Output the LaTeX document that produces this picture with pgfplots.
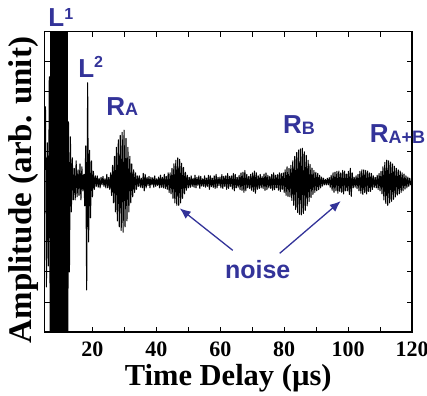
\documentclass[border=0pt]{standalone}
\usepackage{pgfplots}
\pgfplotsset{compat=1.18}
\usepackage{fontspec}
\setmainfont{Liberation Serif}
\newfontfamily\lsans{Liberation Sans}
\usetikzlibrary{arrows.meta}
\definecolor{nblue}{RGB}{51,51,153}
\begin{document}
\begin{tikzpicture}
\begin{axis}[name=ax,
  scale only axis, width=367.5pt, height=300.3pt,
  xmin=5, xmax=120, ymin=-5, ymax=5,
  xtick={10,20,...,120},
  xticklabels={,20,,40,,60,,80,,100,,120},
  ytick={-4,-3,...,4}, yticklabels={},
  tick pos=both, tick align=inside,
  major tick length=5pt,
  axis line style={line width=1.2pt},
  every tick/.style={line width=0.9pt, black},
  /pgf/number format/assume math mode=true,
  xticklabel style={font=\fontsize{22}{22}\selectfont\bfseries, inner sep=0pt, yshift=-9.7pt},
  xlabel={Time Delay (µs)},
  xlabel style={at={(axis description cs:0.5,-0.1765)}, anchor=base, inner sep=0pt, font=\fontsize{30.5}{30.5}\selectfont\bfseries},
  ylabel={Amplitude (arb. unit)},
  ylabel style={at={(axis description cs:-0.0367,0.473)}, anchor=base, inner sep=0pt, font=\fontsize{33}{33}\selectfont\bfseries},
  clip mode=individual,
]
\addplot[black, line width=1.05pt, line join=round, mark=none] coordinates {
(5.0,0.4)(5.3,2.5)(5.6,-3.5)(5.9,1.3)(6.2,-2.8)(6.5,3.5)(6.8,-5.5)(7.0,8)(7.15,-9)(7.3,9)(7.45,-9)(7.6,9)(7.75,-9)(7.9,9)
(8.05,-9)(8.2,9)(8.35,-9)(8.5,9)(8.65,-9)(8.8,9)(8.95,-9)(9.1,9)(9.25,-9)(9.4,9)(9.55,-9)(9.7,9)(9.85,-9)(10.0,9)
(10.15,-9)(10.3,9)(10.45,-9)(10.6,9)(10.75,-9)(10.9,9)(11.05,-9)(11.2,9)(11.35,-9)(11.5,9)(11.65,-9)(11.8,9)(11.95,-9)(12.1,8)(12.25,-7)
(12.5,2.0)(12.8,-3.0)(13.1,1.5)(13.4,-1.0)(13.7,0.8)
(14.0,-0.6)(14.3,0.45)(14.6,-0.6)(14.9,0.7)(15.2,-0.5)(15.5,0.4)(15.8,-0.45)(16.1,0.6)(16.4,-0.6)(16.7,0.5)
(17.0,-0.3)(17.3,0.25)(17.6,-0.8)(17.9,1.2)(18.2,-3.6)(18.5,3.3)(18.8,-2.0)(19.1,1.05)(19.4,-1.2)(19.7,0.7)
(20.0,-0.5)(20.3,0.35)(20.6,-0.25)(20.9,0.2)(21.2,-0.15)(21.5,0.2)(21.8,-0.18)(22.1,0.12)(22.4,-0.2)(22.7,0.15)
(23.0,-0.1)(23.3,0.18)(23.6,-0.15)(23.9,0.1)(24.2,-0.2)(24.5,0.25)(24.8,-0.2)(25.1,0.15)(25.4,-0.25)(25.7,0.3)
(26.0,-0.45)(26.3,0.55)(26.6,-0.7)(26.9,0.85)(27.2,-1.0)(27.5,1.15)(27.8,-1.3)(28.1,1.4)(28.4,-1.5)(28.7,1.55)
(29.0,-1.62)(29.3,1.65)(29.6,-1.68)(29.9,1.72)(30.2,-1.5)(30.5,1.45)(30.8,-1.3)(31.1,1.15)(31.4,-1.0)(31.7,0.85)
(32.0,-0.7)(32.3,0.6)(32.6,-0.5)(32.9,0.4)(33.2,-0.35)(33.5,0.3)(33.8,-0.25)(34.1,0.2)(34.4,-0.15)(34.7,0.2)
(35.0,-0.18)(35.3,0.12)(35.6,-0.2)(35.9,0.28)(36.2,-0.3)(36.5,0.25)(36.8,-0.2)(37.1,0.15)(37.4,-0.12)(37.7,0.18)
(38.0,-0.2)(38.3,0.15)(38.6,-0.1)(38.9,0.14)(39.2,-0.18)(39.5,0.2)(39.8,-0.15)(40.1,0.1)(40.4,-0.12)(40.7,0.16)
(41.0,-0.2)(41.3,0.22)(41.6,-0.18)(41.9,0.15)(42.2,-0.2)(42.5,0.25)(42.8,-0.22)(43.1,0.18)(43.4,-0.25)(43.7,0.3)
(44.0,-0.35)(44.3,0.3)(44.6,-0.4)(44.9,0.45)(45.2,-0.55)(45.5,0.6)(45.8,-0.7)(46.1,0.72)(46.4,-0.78)(46.7,0.8)
(47.0,-0.78)(47.3,0.75)(47.6,-0.7)(47.9,0.62)(48.2,-0.55)(48.5,0.48)(48.8,-0.4)(49.1,0.32)(49.4,-0.28)(49.7,0.22)
(50.0,-0.2)(50.3,0.15)(50.6,-0.18)(50.9,0.2)(51.2,-0.15)(51.5,0.12)(51.8,-0.18)(52.1,0.22)(52.4,-0.2)(52.7,0.15)
(53.0,-0.12)(53.3,0.2)(53.6,-0.22)(53.9,0.18)(54.2,-0.14)(54.5,0.1)(54.8,-0.15)(55.1,0.2)(55.4,-0.18)(55.7,0.12)
(56.0,-0.15)(56.3,0.22)(56.6,-0.25)(56.9,0.2)(57.2,-0.16)(57.5,0.12)(57.8,-0.18)(58.1,0.2)(58.4,-0.22)(58.7,0.25)
(59.0,-0.2)(59.3,0.15)(59.6,-0.12)(59.9,0.16)(60.2,-0.2)(60.5,0.24)(60.8,-0.22)(61.1,0.18)(61.4,-0.15)(61.7,0.2)
(62.0,-0.25)(62.3,0.28)(62.6,-0.22)(62.9,0.18)(63.2,-0.15)(63.5,0.2)(63.8,-0.24)(64.1,0.28)(64.4,-0.3)(64.7,0.25)
(65.0,-0.2)(65.3,0.15)(65.6,-0.18)(65.9,0.22)(66.2,-0.26)(66.5,0.3)(66.8,-0.28)(67.1,0.32)(67.4,-0.35)(67.7,0.38)
(68.0,-0.3)(68.3,0.25)(68.6,-0.2)(68.9,0.18)(69.2,-0.22)(69.5,0.25)(69.8,-0.28)(70.1,0.3)(70.4,-0.32)(70.7,0.36)
(71.0,-0.38)(71.3,0.3)(71.6,-0.25)(71.9,0.2)(72.2,-0.22)(72.5,0.25)(72.8,-0.2)(73.1,0.18)(73.4,-0.22)(73.7,0.26)
(74.0,-0.28)(74.3,0.3)(74.6,-0.26)(74.9,0.22)(75.2,-0.2)(75.5,0.18)(75.8,-0.22)(76.1,0.25)(76.4,-0.28)(76.7,0.3)
(77.0,-0.26)(77.3,0.22)(77.6,-0.2)(77.9,0.24)(78.2,-0.28)(78.5,0.3)(78.8,-0.32)(79.1,0.28)(79.4,-0.25)(79.7,0.3)
(80.0,-0.35)(80.3,0.4)(80.6,-0.45)(80.9,0.5)(81.2,-0.48)(81.5,0.45)(81.8,-0.5)(82.1,0.55)(82.4,-0.62)(82.7,0.7)
(83.0,-0.78)(83.3,0.85)(83.6,-0.92)(83.9,0.98)(84.2,-1.02)(84.5,1.06)(84.8,-1.08)(85.1,1.1)(85.4,-1.1)(85.7,1.12)
(86.0,-1.05)(86.3,1.0)(86.6,-0.95)(86.9,0.88)(87.2,-0.8)(87.5,0.72)(87.8,-0.65)(88.1,0.58)(88.4,-0.52)(88.7,0.46)
(89.0,-0.42)(89.3,0.38)(89.6,-0.35)(89.9,0.32)(90.2,-0.3)(90.5,0.28)(90.8,-0.26)(91.1,0.22)(91.4,-0.2)(91.7,0.16)
(92.0,-0.14)(92.3,0.12)(92.6,-0.1)(92.9,0.08)(93.2,-0.1)(93.5,0.12)(93.8,-0.1)(94.1,0.14)(94.4,-0.18)(94.7,0.22)
(95.0,-0.28)(95.3,0.3)(95.6,-0.35)(95.9,0.32)(96.2,-0.3)(96.5,0.35)(96.8,-0.38)(97.1,0.36)(97.4,-0.32)(97.7,0.3)
(98.0,-0.35)(98.3,0.38)(98.6,-0.4)(98.9,0.36)(99.2,-0.3)(99.5,0.26)(99.8,-0.3)(100.1,0.35)(100.4,-0.42)(100.7,0.45)
(101.0,-0.48)(101.3,0.3)(101.6,-0.2)(101.9,0.15)(102.2,-0.18)(102.5,0.2)(102.8,-0.22)(103.1,0.25)(103.4,-0.3)(103.7,0.35)
(104.0,-0.38)(104.3,0.4)(104.6,-0.42)(104.9,0.4)(105.2,-0.36)(105.5,0.38)(105.8,-0.4)(106.1,0.36)(106.4,-0.32)(106.7,0.3)
(107.0,-0.32)(107.3,0.28)(107.6,-0.25)(107.9,0.2)(108.2,-0.18)(108.5,0.15)(108.8,-0.2)(109.1,0.22)(109.4,-0.25)(109.7,0.28)
(110.0,-0.3)(110.3,0.35)(110.6,-0.4)(110.9,0.5)(111.2,-0.6)(111.5,0.65)(111.8,-0.72)(112.1,0.72)(112.4,-0.78)(112.7,0.7)
(113.0,-0.7)(113.3,0.66)(113.6,-0.65)(113.9,0.6)(114.2,-0.58)(114.5,0.52)(114.8,-0.5)(115.1,0.45)(115.4,-0.44)(115.7,0.4)
(116.0,-0.4)(116.3,0.36)(116.6,-0.35)(116.9,0.3)(117.2,-0.3)(117.5,0.26)(117.8,-0.24)(118.1,0.2)(118.4,-0.2)(118.7,0.16)
(119.0,-0.15)(119.3,0.12)(119.6,-0.1)(119.9,0.05)
};
\begin{scope}[every node/.style={anchor=base west, inner sep=0pt, text=nblue, font=\lsans\bfseries\fontsize{26}{26}\selectfont}]
\node at (axis cs:6.16,5.157) {L\raisebox{7.5pt}{\fontsize{16}{16}\selectfont 1}};
\node at (axis cs:15.53,3.49) {L\raisebox{9.5pt}{\fontsize{16}{16}\selectfont 2}};
\node at (axis cs:24.28,2.223) {R\raisebox{-0.5pt}{\fontsize{18}{18}\selectfont A}};
\node at (axis cs:79.59,1.623) {R\raisebox{-1.5pt}{\fontsize{18}{18}\selectfont B}};
\node at (axis cs:106.78,1.323) {R\raisebox{-1.5pt}{\fontsize{18}{18}\selectfont A+B}};
\node[font=\lsans\bfseries\fontsize{25}{25}\selectfont] at (axis cs:61.44,-3.21) {noise};
\end{scope}
\draw[-{Latex[length=11pt,width=9pt]}, line width=1.3pt, nblue] (axis cs:63.9,-2.28) -- (axis cs:47.3,-0.88);
\draw[-{Latex[length=11pt,width=9pt]}, line width=1.3pt, nblue] (axis cs:78.6,-2.38) -- (axis cs:97.7,-0.64);
\end{axis}
\pgfresetboundingbox
\path[use as bounding box] ([shift={(-44.5pt,-63pt)}]ax.south west) rectangle ([shift={(15pt,31.7pt)}]ax.north east);
\end{tikzpicture}
\end{document}
